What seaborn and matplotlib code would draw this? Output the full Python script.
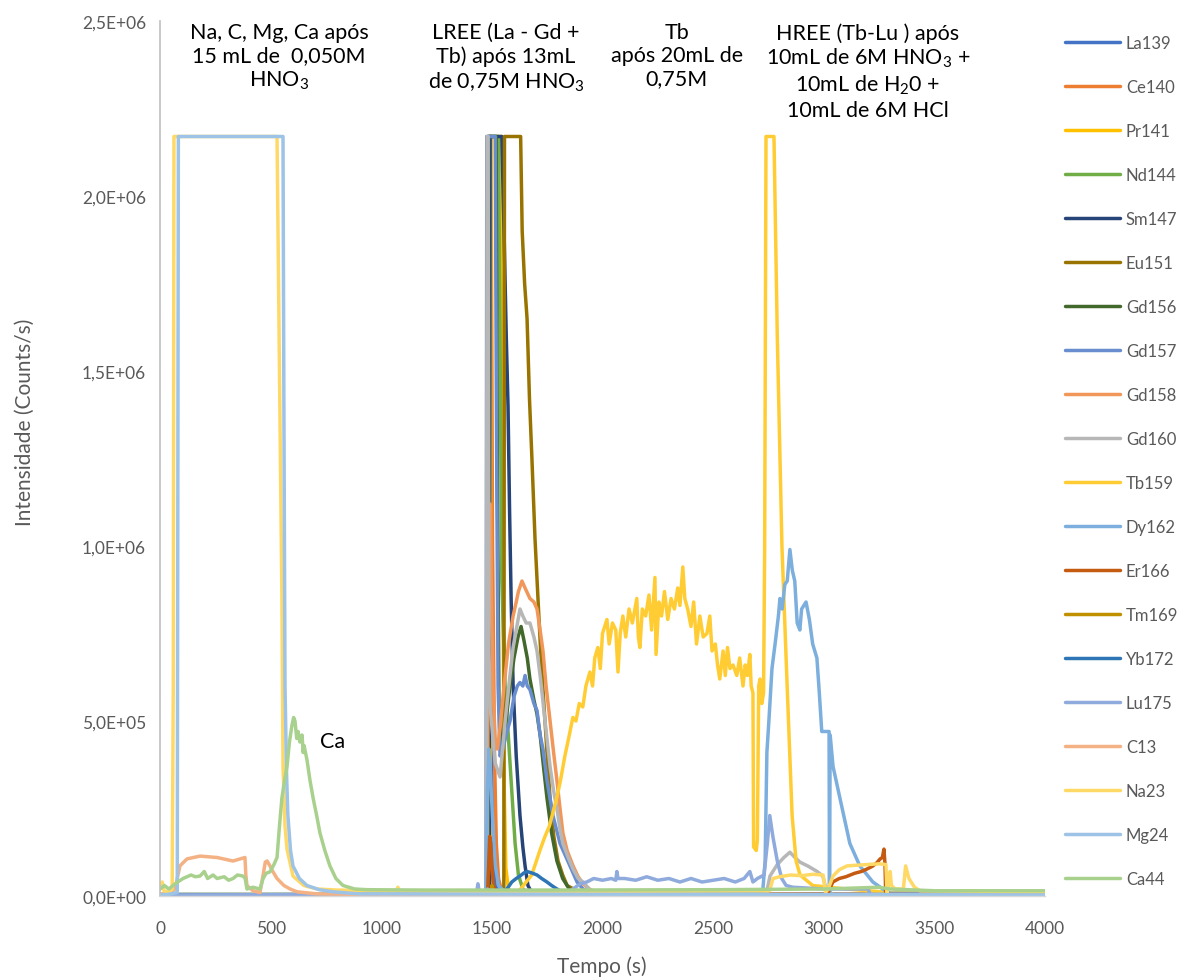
import matplotlib
matplotlib.use("Agg")
import matplotlib.pyplot as plt
import pandas as pd
import seaborn as sns

# ---------------- data (time in s, intensity in 1e6 counts/s) ----------------
species = ["La139", "Ce140", "Pr141", "Nd144", "Sm147", "Eu151", "Gd156", "Gd157",
           "Gd158", "Gd160", "Tb159", "Dy162", "Er166", "Tm169", "Yb172", "Lu175",
           "C13", "Na23", "Mg24", "Ca44"]
colors = ["#4472C4", "#ED7D31", "#FFC000", "#70AD47", "#264478", "#997300", "#43682B",
          "#698ED0", "#F1975A", "#B7B7B7", "#FFCD33", "#7CAFDD", "#C55A11", "#BF9000",
          "#2E75B6", "#8FAADC", "#F4B183", "#FFD966", "#9DC3E6", "#A9D18E"]

pts_La139 = [(0, 0.003), (1000, 0.003), (1474, 0.003), (1477, 2.17), (1492, 2.17), (1496, 0.6),
             (1503, 0.15), (1515, 0.03), (1540, 0.005), (4000, 0.003)]
pts_Ce140 = [(0, 0.002), (1480, 0.002), (1484, 2.17), (1496, 2.17), (1503, 1.0), (1512, 0.4),
             (1520, 0.15), (1530, 0.05), (1545, 0.01), (4000, 0.002)]
pts_Pr141 = [(0, 0.001), (1492, 0.001), (1496, 2.17), (1545, 2.17), (1550, 0.9), (1556, 0.3),
             (1563, 0.08), (1575, 0.02), (1600, 0.005), (4000, 0.001)]
pts_Nd144 = [(0, 0.002), (1486, 0.002), (1490, 2.17), (1530, 2.17), (1545, 0.9), (1560, 0.6),
             (1575, 0.45), (1590, 0.3), (1605, 0.15), (1620, 0.06), (1640, 0.02), (1670, 0.005),
             (4000, 0.002)]
pts_Sm147 = [(0, 0.001), (1488, 0.001), (1492, 2.17), (1545, 2.17), (1555, 1.9), (1565, 1.6),
             (1573, 1.4), (1580, 1.1), (1587, 0.85), (1596, 0.6), (1610, 0.4), (1627, 0.23),
             (1640, 0.14), (1650, 0.086), (1663, 0.03), (1680, 0.01), (4000, 0.001)]
pts_Eu151 = [(0, 0.001), (1554, 0.001), (1557, 2.17), (1630, 2.17), (1637, 1.9), (1648, 1.75),
             (1659, 1.65), (1670, 1.42), (1681, 1.25), (1695, 1.02), (1706, 0.88), (1718, 0.73),
             (1730, 0.6), (1740, 0.5), (1752, 0.38), (1763, 0.28), (1780, 0.17), (1799, 0.1),
             (1820, 0.06), (1840, 0.03), (1898, 0.01), (4000, 0.001)]
pts_Gd156 = [(0, 0.001), (1482, 0.001), (1485, 2.17), (1519, 2.17), (1525, 1.2), (1532, 0.55),
             (1545, 0.42), (1560, 0.48), (1582, 0.6), (1600, 0.68), (1618, 0.74), (1632, 0.77),
             (1645, 0.73), (1660, 0.68), (1672, 0.62), (1690, 0.56), (1704, 0.52), (1718, 0.46),
             (1735, 0.36), (1749, 0.28), (1770, 0.18), (1794, 0.1), (1820, 0.05), (1850, 0.02),
             (1880, 0.008), (4000, 0.001)]
pts_Gd157 = [(0, 0.002), (1480, 0.002), (1483, 2.17), (1515, 2.17), (1522, 1.2), (1528, 0.6),
             (1537, 0.4), (1550, 0.42), (1568, 0.47), (1582, 0.5), (1600, 0.57), (1615, 0.6),
             (1627, 0.61), (1640, 0.6), (1650, 0.63), (1660, 0.6), (1672, 0.59), (1690, 0.55),
             (1704, 0.53), (1718, 0.46), (1731, 0.42), (1749, 0.33), (1776, 0.23), (1808, 0.15),
             (1853, 0.086), (1885, 0.04), (1912, 0.02), (1950, 0.008), (4000, 0.002)]
pts_Gd158 = [(0, 0.002), (1478, 0.002), (1482, 0.6), (1487, 1.0), (1492, 1.12), (1497, 0.9),
             (1505, 0.6), (1515, 0.45), (1525, 0.42), (1537, 0.48), (1555, 0.6), (1575, 0.72),
             (1596, 0.8), (1610, 0.84), (1620, 0.87), (1636, 0.9), (1650, 0.88), (1672, 0.85),
             (1690, 0.84), (1704, 0.82), (1718, 0.76), (1731, 0.7), (1745, 0.6), (1763, 0.5),
             (1779, 0.41), (1794, 0.33), (1808, 0.25), (1821, 0.18), (1840, 0.13), (1867, 0.086),
             (1890, 0.055), (1912, 0.035), (1940, 0.02), (1980, 0.008), (4000, 0.002)]
pts_Gd160 = [(0, 0.002), (1475, 0.002), (1478, 2.17), (1483, 2.17), (1487, 0.7), (1492, 0.54),
             (1515, 0.38), (1537, 0.34), (1560, 0.5), (1580, 0.62), (1596, 0.71), (1610, 0.76),
             (1627, 0.82), (1640, 0.8), (1655, 0.78), (1672, 0.78), (1690, 0.74), (1704, 0.7),
             (1720, 0.62), (1735, 0.53), (1749, 0.45), (1763, 0.37), (1779, 0.3), (1794, 0.25),
             (1808, 0.19), (1821, 0.15), (1845, 0.11), (1867, 0.077), (1890, 0.05), (1912, 0.04),
             (1940, 0.02), (1970, 0.008), (2740, 0.005), (2757, 0.057), (2790, 0.09), (2820, 0.11),
             (2847, 0.125), (2870, 0.11), (2892, 0.097), (2930, 0.085), (2970, 0.07), (2996, 0.057),
             (3010, 0.02), (3040, 0.005), (4000, 0.002)]
pts_Tb159 = [(0, 0.005), (1600, 0.005), (1630, 0.02), (1680, 0.06), (1717, 0.13), (1740, 0.17),
             (1760, 0.2), (1793, 0.28), (1810, 0.33), (1830, 0.4), (1850, 0.46), (1866, 0.51),
             (1880, 0.5), (1895, 0.55), (1911, 0.54), (1925, 0.6), (1943, 0.64), (1955, 0.6),
             (1965, 0.68), (1979, 0.71), (1990, 0.65), (2000, 0.75), (2020, 0.79), (2030, 0.72),
             (2045, 0.78), (2060, 0.76), (2070, 0.64), (2080, 0.75), (2092, 0.8), (2105, 0.74),
             (2120, 0.82), (2135, 0.78), (2155, 0.85), (2162, 0.74), (2169, 0.71), (2180, 0.82),
             (2195, 0.8), (2210, 0.86), (2222, 0.76), (2237, 0.91), (2242, 0.69), (2255, 0.84),
             (2267, 0.8), (2280, 0.87), (2295, 0.79), (2310, 0.85), (2325, 0.82), (2340, 0.88),
             (2350, 0.83), (2363, 0.94), (2372, 0.85), (2385, 0.82), (2400, 0.77), (2412, 0.84),
             (2425, 0.72), (2440, 0.8), (2455, 0.74), (2472, 0.75), (2485, 0.8), (2495, 0.7),
             (2510, 0.72), (2520, 0.66), (2530, 0.62), (2545, 0.7), (2555, 0.63), (2565, 0.71),
             (2576, 0.65), (2590, 0.66), (2607, 0.63), (2620, 0.68), (2635, 0.6), (2645, 0.66),
             (2655, 0.63), (2666, 0.69), (2672, 0.6), (2680, 0.58), (2683, 0.14), (2695, 0.13),
             (2700, 0.16), (2706, 0.6), (2712, 0.62), (2720, 0.55), (2728, 0.58), (2733, 1.0),
             (2739, 2.17), (2775, 2.17), (2790, 1.6), (2811, 1.0), (2834, 0.61), (2857, 0.23),
             (2875, 0.1), (2893, 0.06), (2950, 0.03), (3100, 0.02), (3300, 0.01), (4000, 0.005)]
pts_Dy162 = [(0, 0.005), (1474, 0.005), (1480, 0.3), (1487, 0.42), (1492, 0.38), (1497, 0.3),
             (1505, 0.2), (1515, 0.09), (1530, 0.03), (1560, 0.01), (2700, 0.008), (2725, 0.02),
             (2735, 0.1), (2743, 0.41), (2752, 0.5), (2766, 0.65), (2780, 0.72), (2795, 0.8),
             (2802, 0.85), (2812, 0.82), (2824, 0.89), (2835, 0.9), (2847, 0.99), (2858, 0.93),
             (2869, 0.9), (2880, 0.78), (2892, 0.76), (2900, 0.82), (2920, 0.84), (2935, 0.79),
             (2950, 0.72), (2969, 0.68), (2980, 0.58), (2991, 0.47), (3024, 0.47), (3026, 0.005),
             (3029, 0.46), (3042, 0.37), (3073, 0.28), (3118, 0.15), (3163, 0.086), (3222, 0.04),
             (3267, 0.02), (3300, 0.008), (4000, 0.005)]
pts_Er166 = [(0, 0.002), (1480, 0.002), (1485, 0.08), (1490, 0.17), (1495, 0.15), (1500, 0.08),
             (1507, 0.03), (1520, 0.01), (1550, 0.003), (3000, 0.003), (3020, 0.01), (3041, 0.04),
             (3070, 0.05), (3100, 0.055), (3140, 0.065), (3170, 0.07), (3195, 0.077), (3220, 0.085),
             (3240, 0.095), (3255, 0.106), (3265, 0.11), (3272, 0.134), (3277, 0.09), (3280, 0.005),
             (4000, 0.002)]
pts_Tm169 = [(0, 0.001), (1495, 0.001), (1500, 0.03), (1506, 0.005), (4000, 0.001)]
pts_Yb172 = [(0, 0.003), (1550, 0.005), (1568, 0.02), (1590, 0.04), (1610, 0.05), (1627, 0.057),
             (1645, 0.066), (1659, 0.07), (1680, 0.066), (1704, 0.06), (1725, 0.05), (1749, 0.04),
             (1770, 0.03), (1794, 0.02), (1830, 0.008), (1870, 0.003), (4000, 0.003)]
pts_Lu175 = [(0, 0.003), (1430, 0.005), (1437, 0.035), (1444, 0.008), (1470, 0.01), (1480, 0.02),
             (1500, 0.01), (1850, 0.01), (1866, 0.02), (1900, 0.035), (1929, 0.04), (1960, 0.05),
             (2000, 0.045), (2040, 0.05), (2060, 0.045), (2065, 0.07), (2070, 0.05), (2100, 0.05),
             (2150, 0.045), (2200, 0.055), (2250, 0.045), (2300, 0.05), (2350, 0.04), (2400, 0.05),
             (2450, 0.04), (2500, 0.045), (2550, 0.05), (2600, 0.04), (2640, 0.05), (2666, 0.07),
             (2680, 0.04), (2700, 0.05), (2730, 0.06), (2745, 0.15), (2756, 0.23), (2770, 0.17),
             (2790, 0.1), (2810, 0.05), (2830, 0.03), (2860, 0.025), (3000, 0.02), (3200, 0.02),
             (3210, 0.005), (4000, 0.003)]
pts_C13 = [(0, 0.005), (30, 0.005), (45, 0.01), (68, 0.02), (90, 0.086), (122, 0.106), (181, 0.114),
           (258, 0.11), (330, 0.1), (384, 0.11), (388, 0.06), (393, 0.03), (420, 0.015), (452, 0.01),
           (466, 0.06), (476, 0.097), (484, 0.1), (497, 0.086), (510, 0.07), (529, 0.05), (560, 0.03),
           (588, 0.02), (620, 0.012), (710, 0.006), (1000, 0.004), (4000, 0.003)]
pts_Na23 = [(0, 0.02), (10, 0.04), (18, 0.015), (40, 0.01), (55, 0.02), (60, 0.6), (63, 2.17),
            (529, 2.17), (540, 1.5), (551, 0.85), (556, 0.37), (565, 0.2), (574, 0.134), (601, 0.057),
            (650, 0.03), (710, 0.02), (800, 0.017), (1000, 0.015), (1070, 0.015), (1075, 0.025),
            (1080, 0.015), (1500, 0.012), (2755, 0.015), (2771, 0.05), (2800, 0.055), (2850, 0.06),
            (2900, 0.058), (2950, 0.062), (2997, 0.06), (3008, 0.01), (3020, 0.02), (3042, 0.057),
            (3070, 0.075), (3105, 0.086), (3150, 0.088), (3200, 0.09), (3250, 0.092), (3281, 0.09),
            (3286, 0.01), (3295, 0.04), (3300, 0.07), (3306, 0.03), (3322, 0.02), (3360, 0.02),
            (3370, 0.086), (3385, 0.05), (3410, 0.025), (3435, 0.015), (4000, 0.012)]
pts_Mg24 = [(0, 0.003), (40, 0.005), (78, 0.01), (83, 2.17), (556, 2.17), (560, 1.4), (565, 0.6),
            (572, 0.35), (578, 0.23), (590, 0.13), (601, 0.086), (630, 0.05), (664, 0.03),
            (720, 0.018), (782, 0.012), (900, 0.006), (4000, 0.003)]
pts_Ca44 = [(0, 0.02), (20, 0.03), (40, 0.02), (59, 0.03), (80, 0.04), (104, 0.05), (140, 0.06),
            (160, 0.055), (181, 0.057), (200, 0.07), (215, 0.05), (240, 0.06), (258, 0.05),
            (290, 0.055), (310, 0.045), (330, 0.05), (350, 0.06), (375, 0.057), (385, 0.05),
            (393, 0.02), (420, 0.025), (452, 0.02), (466, 0.05), (480, 0.065), (497, 0.069),
            (515, 0.09), (529, 0.11), (540, 0.2), (551, 0.28), (563, 0.33), (574, 0.37), (585, 0.44),
            (597, 0.49), (604, 0.51), (610, 0.5), (618, 0.45), (624, 0.47), (632, 0.44), (642, 0.46),
            (647, 0.41), (651, 0.43), (664, 0.39), (678, 0.33), (692, 0.28), (708, 0.23),
            (723, 0.18), (745, 0.13), (768, 0.086), (795, 0.05), (827, 0.03), (880, 0.02),
            (936, 0.018), (1200, 0.017), (1800, 0.017), (2500, 0.018), (3000, 0.02), (3250, 0.025),
            (3300, 0.02), (3500, 0.015), (4000, 0.015)]

yticks = [0, 0.5e6, 1.0e6, 1.5e6, 2.0e6, 2.5e6]
ytick_labels = ["0,0E+00", "5,0E+05", "1,0E+06", "1,5E+06", "2,0E+06", "2,5E+06"]
xticks = [0, 500, 1000, 1500, 2000, 2500, 3000, 3500, 4000]

# ---------------- build long table ----------------
frames = []
for name in species:
    pts = globals()["pts_" + name]
    frames.append(pd.DataFrame({"Tempo": [p[0] for p in pts],
                                "Int": [p[1] * 1e6 for p in pts],
                                "Serie": name}))
df = pd.concat(frames, ignore_index=True)

sns.set_theme(style="white")
plt.rcParams["font.family"] = ["Lato", "DejaVu Sans"]
plt.rcParams["mathtext.fontset"] = "custom"
plt.rcParams["mathtext.rm"] = "Lato"
plt.rcParams["mathtext.it"] = "Lato"

fig = plt.figure(figsize=(11.86, 9.79), dpi=100)
ax = fig.add_axes([160 / 1186, 1 - 897 / 979, 885 / 1186, 875 / 979])

sns.lineplot(data=df, x="Tempo", y="Int", hue="Serie", hue_order=species,
             palette=dict(zip(species, colors)), estimator=None, sort=False,
             linewidth=2.5, ax=ax, legend=True)

ax.set_xlim(0, 4000)
ax.set_ylim(0, 2.5e6)
ax.set_xticks(xticks)
ax.set_xticklabels([str(x) for x in xticks])
ax.set_yticks(yticks)
ax.set_yticklabels(ytick_labels)
ax.tick_params(axis="both", length=0, labelsize=12.5, labelcolor="#595959")
ax.tick_params(axis="x", pad=17)
ax.tick_params(axis="y", pad=10)
ax.set_xlabel("")
ax.set_ylabel("")
for s in ["top", "right"]:
    ax.spines[s].set_visible(False)
ax.spines["left"].set_color("#BFBFBF")
ax.spines["left"].set_linewidth(1.2)
ax.spines["bottom"].set_color("#D9D9D9")
ax.spines["bottom"].set_linewidth(1.0)

fig.text(25 / 1186, 1 - 422 / 979, "Intensidade (Counts/s)", rotation=90,
         ha="center", va="center", fontsize=15, color="#595959")
fig.text(602 / 1186, 1 - 967 / 979, "Tempo (s)", ha="center", va="center",
         fontsize=15, color="#595959")

leg = ax.legend(loc="upper left", bbox_to_anchor=(1065 / 1186, 1 - 36 / 979),
                bbox_transform=fig.transFigure, frameon=False, fontsize=12,
                labelspacing=1.68, handlelength=3.3, handletextpad=0.35, borderaxespad=0,
                borderpad=0)
for txt in leg.get_texts():
    txt.set_color("#595959")
for line in leg.get_lines():
    line.set_linewidth(2.5)

kw = dict(ha="center", va="top", fontsize=15.5, color="black",
          linespacing=1.2, multialignment="center")
fig.text(279 / 1186, 1 - 23 / 979, "Na, C, Mg, Ca após\n15 mL de  0,050M\nHNO$_3$", **kw)
fig.text(506 / 1186, 1 - 23 / 979, "LREE (La - Gd +\nTb) após 13mL\nde 0,75M HNO$_3$", **kw)
fig.text(677 / 1186, 1 - 23 / 979, "Tb\napós 20mL de\n0,75M", **kw)
fig.text(868 / 1186, 1 - 23 / 979,
         "HREE (Tb-Lu ) após\n10mL de 6M HNO$_3$ +\n10mL de H$_2$0 +\n10mL de 6M HCl", **kw)
fig.text(333 / 1186, 1 - 742 / 979, "Ca", ha="center", va="center", fontsize=15.5,
         color="black")

fig.savefig("out.png", dpi=100)
